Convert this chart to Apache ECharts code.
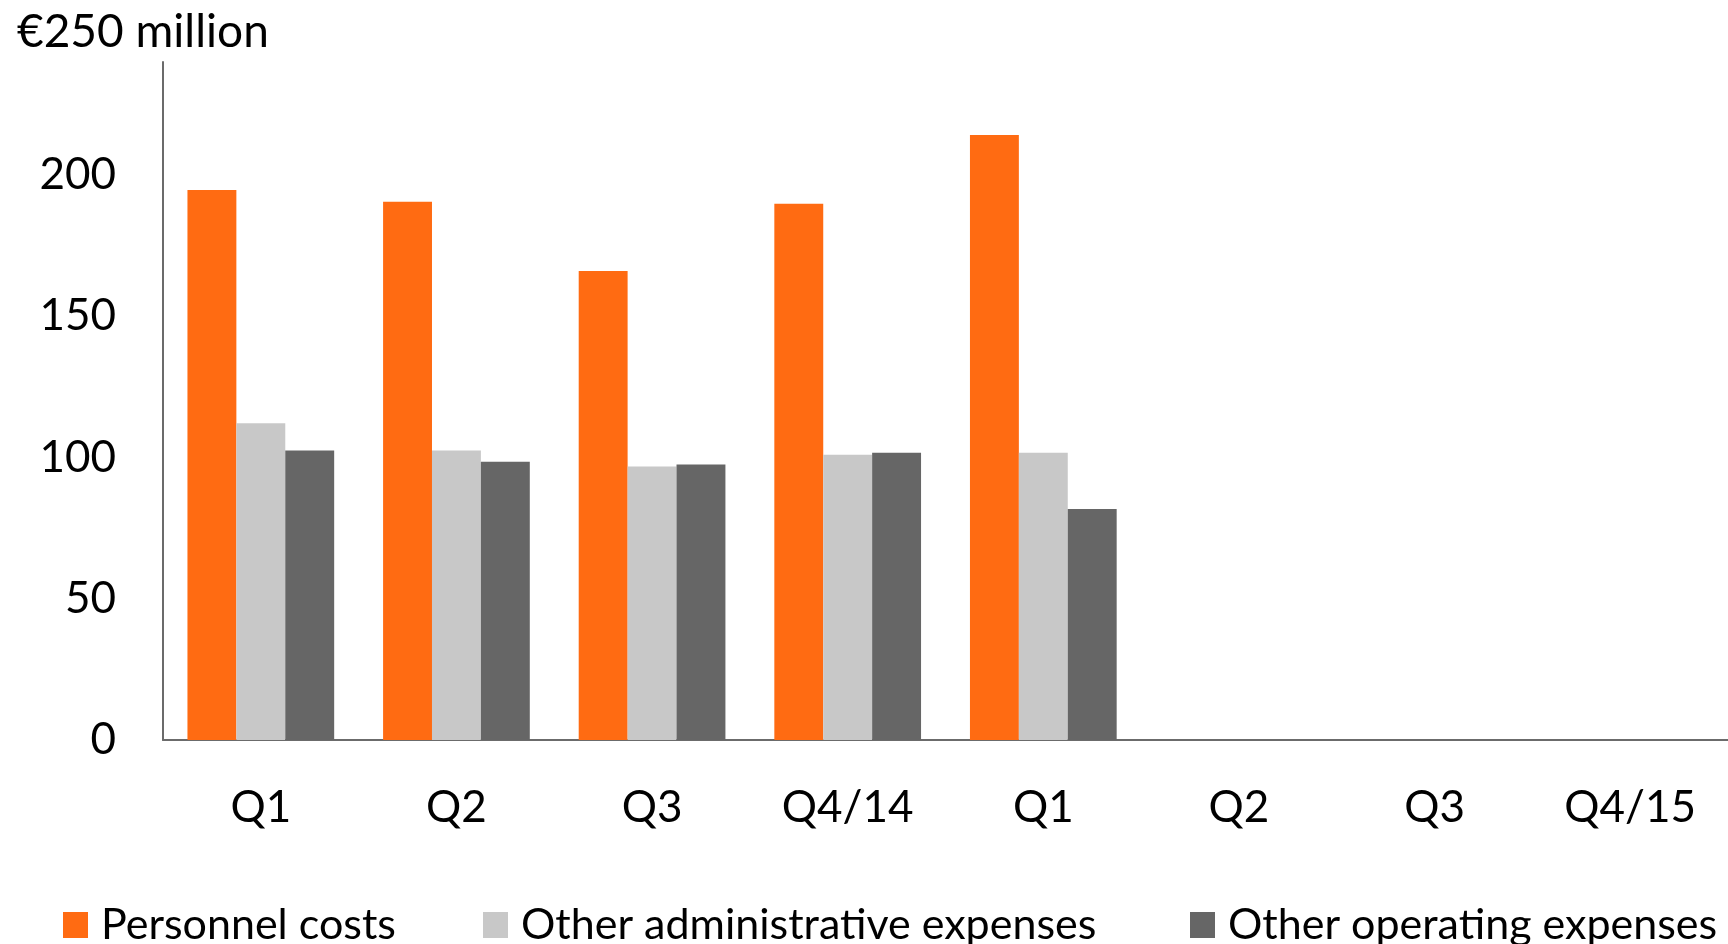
<!DOCTYPE html>
<html>
<head>
<meta charset="utf-8">
<script src="https://cdn.jsdelivr.net/npm/echarts@6/dist/echarts.min.js"></script>
<style>
  html, body { margin: 0; padding: 0; background: #ffffff; }
  #chart { width: 1728px; height: 944px; }
</style>
</head>
<body>
<div id="chart"></div>
<script>
const categories = ['Q1', 'Q2', 'Q3', 'Q4/14', 'Q1', 'Q2', 'Q3', 'Q4/15'];
const personnelCosts = [194.7, 190.5, 166.0, 189.8, 214.2, null, null, null];
const otherAdminExpenses = [112.1, 102.5, 96.8, 101.0, 101.7, null, null, null];
const otherOperatingExpenses = [102.5, 98.5, 97.5, 101.7, 81.8, null, null, null];
const seriesNames = ['Personnel costs', 'Other administrative expenses', 'Other operating expenses'];
const unitLabel = '€250 million';

const FONT = 'Lato';
const chart = echarts.init(document.getElementById('chart'), null, { renderer: 'canvas' });

const legendLefts = [58, 478, 1185];
const legends = seriesNames.map((name, i) => ({
  left: legendLefts[i],
  top: 897,
  itemWidth: 25,
  itemHeight: 26,
  icon: 'rect',
  width: 700,
  textStyle: { fontFamily: FONT, fontSize: 43, color: '#000000', lineHeight: 46, padding: [0, 0, 0, 8] },
  data: [name]
}));

chart.setOption({
  animation: false,
  backgroundColor: '#ffffff',
  title: {
    text: unitLabel,
    left: 12,
    top: 4,
    textStyle: { fontFamily: FONT, fontSize: 46, fontWeight: 'normal', color: '#000000', lineHeight: 46 }
  },
  legend: legends,
  grid: {
    left: 163,
    right: 0,
    top: 62,
    bottom: 944 - 740,
    containLabel: false
  },
  xAxis: {
    type: 'category',
    data: categories,
    axisLine: { lineStyle: { color: '#6b6b6b', width: 2 } },
    axisTick: { show: false },
    axisLabel: { fontFamily: FONT, fontSize: 44, color: '#000000', margin: 46, lineHeight: 44, interval: 0 },
    splitLine: { show: false }
  },
  yAxis: {
    type: 'value',
    min: 0,
    max: 240,
    interval: 50,
    axisLine: { show: true, lineStyle: { color: '#6b6b6b', width: 2 } },
    axisTick: { show: false },
    splitLine: { show: false },
    axisLabel: { fontFamily: FONT, fontSize: 44, color: '#000000', margin: 47, showMaxLabel: false }
  },
  series: [
    { name: seriesNames[0], type: 'bar', data: personnelCosts, itemStyle: { color: '#ff6b12' }, barGap: '0%', barCategoryGap: '25%' },
    { name: seriesNames[1], type: 'bar', data: otherAdminExpenses, itemStyle: { color: '#c8c8c8' }, barGap: '0%', barCategoryGap: '25%' },
    { name: seriesNames[2], type: 'bar', data: otherOperatingExpenses, itemStyle: { color: '#666666' }, barGap: '0%', barCategoryGap: '25%' }
  ]
});
</script>
</body>
</html>
